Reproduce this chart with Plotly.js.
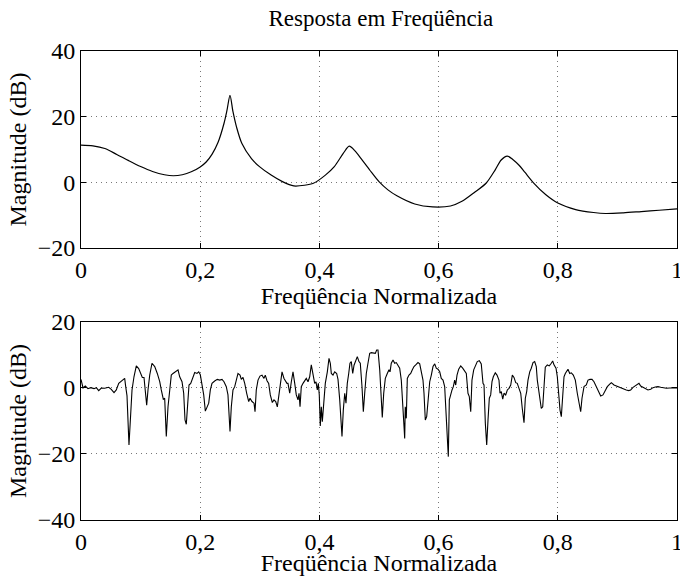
<!DOCTYPE html>
<html>
<head>
<meta charset="utf-8">
<script src="https://cdn.plot.ly/plotly-3.0.1.min.js"></script>
<style>html,body{margin:0;padding:0;background:#fff;}#chart{width:680px;height:576px;}</style>
</head>
<body>
<div id="chart"></div>
<script>
// Top panel: smooth frequency response
const freqTop = [0,0.02,0.04,0.06,0.08,0.1,0.12,0.14,0.155,0.17,0.185,0.2,0.21,0.22,0.23,0.24,0.245,0.25,0.255,0.261,0.27,0.286,0.3,0.319,0.338,0.357,0.375,0.39,0.41,0.425,0.44,0.45,0.46,0.47,0.485,0.5,0.515,0.53,0.56,0.59,0.62,0.64,0.66,0.68,0.695,0.705,0.715,0.725,0.735,0.745,0.76,0.78,0.8,0.83,0.86,0.88,0.91,0.94,0.97,1.0];
const magTop  = [11.3,11.1,10.3,8.5,6.6,4.8,3.3,2.3,2.0,2.3,3.2,4.7,6.2,8.6,12.2,18.0,22.0,26.5,21.5,16.8,11.8,7.2,4.7,2.2,0.2,-1.1,-0.9,-0.3,2.2,4.8,8.8,11.0,9.5,7.2,3.6,0.2,-2.3,-4.1,-6.6,-7.5,-7.2,-5.7,-3.1,-0.2,3.8,6.8,8.0,6.9,5.2,3.0,-0.3,-3.8,-6.3,-8.3,-9.2,-9.5,-9.3,-8.9,-8.5,-8.1];

// Bottom panel: noisy frequency response
const freqBot = [0,0.0034,0.0072,0.0117,0.0163,0.0218,0.0257,0.0297,0.0341,0.0398,0.0465,0.0508,0.0554,0.0592,0.0633,0.0688,0.0733,0.075,0.0772,0.0805,0.0834,0.0856,0.0889,0.0928,0.0968,0.1002,0.1029,0.1057,0.1079,0.1102,0.1124,0.1153,0.1191,0.1237,0.128,0.1321,0.1347,0.1381,0.1404,0.1431,0.146,0.1488,0.1515,0.1544,0.1582,0.1628,0.1656,0.1695,0.1723,0.1745,0.1767,0.179,0.1812,0.1841,0.1879,0.1908,0.1946,0.1975,0.2002,0.203,0.2059,0.2086,0.2114,0.2143,0.217,0.2198,0.2243,0.2287,0.2327,0.2366,0.2399,0.2438,0.2466,0.2488,0.25,0.2522,0.255,0.2579,0.2606,0.2634,0.2668,0.269,0.2718,0.2747,0.278,0.2814,0.2836,0.2869,0.2903,0.292,0.2941,0.297,0.3003,0.3037,0.307,0.3092,0.3121,0.3149,0.3176,0.321,0.3238,0.3267,0.3294,0.3334,0.3373,0.3406,0.3428,0.3456,0.3473,0.3502,0.3529,0.3557,0.3586,0.3612,0.3641,0.3658,0.3675,0.3696,0.3725,0.3753,0.378,0.3809,0.3837,0.3864,0.3893,0.3921,0.3943,0.3965,0.3982,0.3998,0.4015,0.4032,0.4049,0.4072,0.4099,0.4133,0.4161,0.4183,0.42,0.4228,0.4257,0.429,0.4312,0.4341,0.4362,0.4379,0.4401,0.4425,0.4446,0.4468,0.4492,0.4513,0.4535,0.4559,0.4581,0.4609,0.4636,0.4664,0.4686,0.4715,0.4737,0.476,0.4787,0.4815,0.4844,0.4871,0.4904,0.4938,0.4961,0.4983,0.5012,0.5034,0.5055,0.5079,0.5106,0.5139,0.5168,0.5185,0.5206,0.5235,0.5263,0.529,0.5319,0.5347,0.5374,0.5398,0.542,0.5431,0.5441,0.5458,0.5475,0.5503,0.5532,0.5559,0.5587,0.5616,0.5654,0.5683,0.571,0.5738,0.5755,0.5777,0.58,0.5822,0.5851,0.5878,0.5906,0.5935,0.5961,0.599,0.6019,0.6045,0.6074,0.6102,0.6129,0.6146,0.6163,0.618,0.6203,0.6225,0.6247,0.627,0.6287,0.6309,0.6337,0.6371,0.6404,0.6438,0.6465,0.6493,0.6515,0.6539,0.656,0.6589,0.6616,0.6649,0.6683,0.6716,0.6745,0.6762,0.6784,0.6807,0.6829,0.6851,0.6874,0.6896,0.6918,0.6951,0.698,0.6997,0.7013,0.703,0.7052,0.7076,0.7097,0.7126,0.7153,0.7181,0.721,0.7237,0.7265,0.7294,0.732,0.7349,0.7378,0.7404,0.7433,0.7455,0.7478,0.75,0.7529,0.7555,0.7584,0.7612,0.7639,0.7656,0.768,0.7701,0.7723,0.7747,0.7769,0.779,0.7824,0.7857,0.7891,0.7914,0.7936,0.797,0.7992,0.8015,0.8037,0.8059,0.8082,0.8104,0.8126,0.8149,0.8171,0.82,0.8227,0.826,0.8294,0.8327,0.8361,0.8384,0.8406,0.844,0.8478,0.8507,0.854,0.8574,0.8607,0.8646,0.8686,0.872,0.8758,0.8797,0.8831,0.8871,0.8898,0.8943,0.8982,0.9022,0.9065,0.9111,0.9149,0.919,0.9223,0.9262,0.93,0.9334,0.9362,0.9391,0.943,0.9468,0.9513,0.9559,0.9597,0.9636,0.9681,0.9727,0.977,0.9821,0.9878,0.9933,1.0];
const magBot = [2.6,0,0.6,-0.2,0.1,-0.2,0.1,-0.8,0,-0.1,0.2,-0.4,-1.4,-0.6,1.4,2.2,2.9,0.4,-2.4,-17.3,-5.7,-0.6,3.4,6.7,5.9,4.4,3.2,3.2,-0.6,-5.2,-0.6,3.9,7.5,6.5,4.4,1.9,-0.6,-3.4,-3.1,-14.7,-5.7,-1.1,3.9,4.4,4.9,5.5,3.4,1.9,-1.6,-9.7,-11.0,-5.7,0.9,1.4,3.2,4.7,4.4,4.9,4.0,1.4,-2.1,-7.0,-5.7,-4.6,-0.6,1.4,2.1,2.6,2.4,2.6,1.9,0.4,-2.1,-9.7,-13.2,-5.7,-0.6,0.4,2.4,4.4,3.9,2.6,3.2,1.4,-1.6,-4.1,-3.1,-4.1,-4.6,-7.2,-0.6,2.4,3.6,3.9,2.9,3.9,2.2,1.4,-2.1,-4.4,-3.6,-4.1,-5.7,0.4,4.9,2.9,2.4,1.4,1.4,-1.6,1.9,4.9,1.4,-2.1,-3.6,-1.6,-5.7,0.4,1.4,2.4,2.9,1.9,3.4,7.0,3.4,1.4,1.9,-0.6,1.4,-2.1,-11.5,-5.7,-10.2,-4.6,1.4,4.9,9.0,7.5,4.4,3.9,4.9,4.4,2.6,-3.6,-9.7,-14.7,-6.7,-1.6,-4.6,1.4,4.4,7.5,8.0,4.4,6.9,8.5,9.5,8.0,7.5,0.4,-7.2,-1.6,4.4,7.5,10.5,10.7,10.5,10.5,11.5,11.5,5.5,-2.6,-8.9,-1.6,2.9,4.4,5.5,4.9,7.5,8.5,7.5,7.7,7.0,6.0,2.4,-3.6,-11.7,-15.3,-5.7,-9.2,2.9,3.9,4.4,5.5,6.5,7.0,7.7,7.3,4.4,2.4,-1.6,-9.7,-8.7,-3.6,1.9,3.9,6.5,7.3,6.0,5.7,4.9,2.9,2.4,0.4,-9.7,-15.8,-20.8,-3.6,-1.6,-0.6,0.4,2.4,0.9,3.9,5.7,6.7,6.0,4.9,4.4,-1.6,-2.6,-7.2,2.4,5.5,6.7,8.0,8.3,7.3,1.4,0.9,-10.7,-17.3,-9.7,-3.1,-2.1,1.9,3.4,4.6,3.9,2.9,2.4,-1.6,-1.1,-3.4,-1.6,-2.1,-0.6,-0.1,0.9,3.9,3.2,1.6,1.4,-0.1,-1.6,-6.2,-10.5,-3.1,-1.1,2.4,4.9,6.0,7.7,8.0,6.5,2.4,-1.1,-2.6,-6.2,-5.7,2.4,6.3,7.0,6.7,7.5,8.2,7.0,6.0,3.4,-2.1,-6.7,-8.7,-2.6,3.4,4.4,4.9,5.7,4.4,4.6,3.9,2.4,-1.6,-5.7,-7.2,-3.1,0.4,0.9,2.4,2.6,2.6,1.9,0.4,-1.6,-2.4,-2.1,-0.6,0.4,1.2,1.6,0.9,0.6,0.2,-0.1,-0.4,-0.6,-0.8,-0.6,0.2,0.6,0.9,1.4,0.6,0.2,-0.4,-0.6,-0.4,0.1,0.3,0.4,0.2,0,-0.1,0,-0.1,0];

const xTickVals = [0,0.2,0.4,0.6,0.8,1];
const yTopTicks = [-20,0,20,40];
const yBotTicks = [-40,-20,0,20];

const titleText = 'Resposta em Freqüência';
const xLabel = 'Freqüência Normalizada';
const yLabel = 'Magnitude (dB)';

const serif = 'Liberation Serif, Times New Roman, serif';
const axFont = {family: serif, size: 24, color: '#000'};

function xAx(anchor) {
  return {
    anchor: anchor, range: [0, 1], tickvals: xTickVals, tickformat: '.1~f',
    ticks: 'inside', ticklen: 5, tickcolor: '#000', tickwidth: 1,
    showline: true, linecolor: '#000', linewidth: 1, mirror: 'ticks',
    showgrid: true, gridcolor: '#777', griddash: '1px,4px', gridwidth: 1,
    zeroline: false, tickfont: axFont, ticklabeloverflow: 'allow',
    title: {text: xLabel, font: axFont, standoff: 0},
    automargin: false
  };
}
function yAx(anchor, rng, ticks, dom) {
  return {
    anchor: anchor, domain: dom, range: rng, tickvals: ticks,
    ticks: 'inside', ticklen: 5, tickcolor: '#000', tickwidth: 1,
    showline: true, linecolor: '#000', linewidth: 1, mirror: 'ticks',
    showgrid: true, gridcolor: '#777', griddash: '1px,4px', gridwidth: 1,
    zeroline: false, tickfont: axFont, ticklabeloverflow: 'allow',
    title: {text: yLabel, font: axFont, standoff: 4},
    automargin: false
  };
}

const traces = [
  {x: freqTop, y: magTop, xaxis: 'x', yaxis: 'y', mode: 'lines',
   line: {color: '#000', width: 1.2, shape: 'spline', smoothing: 0.8}, hoverinfo: 'skip'},
  {x: freqBot, y: magBot, xaxis: 'x2', yaxis: 'y2', mode: 'lines',
   line: {color: '#000', width: 1.1}, hoverinfo: 'skip'}
];

const layout = {
  width: 680, height: 576,
  margin: {l: 81, r: 3, t: 51, b: 56},
  paper_bgcolor: '#fff', plot_bgcolor: '#fff',
  separators: ',.',
  showlegend: false,
  title: {text: titleText, font: {family: serif, size: 23, color: '#000'},
          x: 0.56, xanchor: 'center', y: 0.968, yanchor: 'middle'},
  xaxis: xAx('y'),
  yaxis: yAx('x', [-20, 40], yTopTicks, [0.58, 1]),
  xaxis2: xAx('y2'),
  yaxis2: yAx('x2', [-40, 20], yBotTicks, [0, 0.4222])
};

Plotly.newPlot('chart', traces, layout, {displayModeBar: false, staticPlot: true});
</script>
</body>
</html>
